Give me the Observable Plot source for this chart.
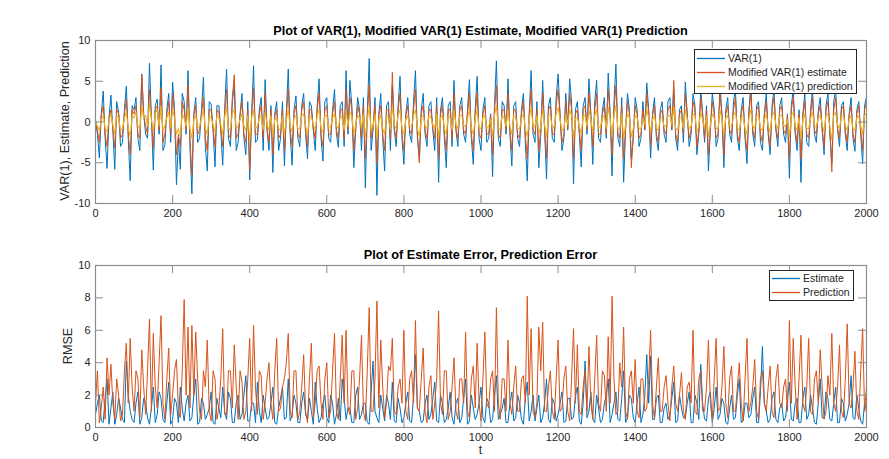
<!DOCTYPE html>
<html><head><meta charset="utf-8">
<script src="https://cdn.jsdelivr.net/npm/d3@7"></script>
<script src="https://cdn.jsdelivr.net/npm/@observablehq/plot@0.6"></script>
<style>
body{margin:0;background:#fff;font-family:"Liberation Sans",Arial,sans-serif;}
#wrap{position:relative;width:889px;height:459px;overflow:hidden;background:#fff;}
.abs{position:absolute;}
.title{font-weight:bold;font-size:12.7px;color:#000;white-space:nowrap;transform:translate(-50%,-50%);}
.ylab{font-size:12.6px;color:#262626;white-space:nowrap;transform:translate(-50%,-50%) rotate(-90deg);}
.xlab{font-size:12px;color:#262626;transform:translate(-50%,-50%);}
</style>
</head><body>
<div id="wrap"></div>
<script>
const tStep = 10, tMax = 2000;
const xTicks = [0,200,400,600,800,1000,1200,1400,1600,1800,2000];
const yTicksTop = [-10,-5,0,5,10];
const yTicksBottom = [0,2,4,6,8,10];

const titleTop = "Plot of VAR(1), Modified VAR(1) Estimate, Modified VAR(1) Prediction";
const titleBottom = "Plot of Estimate Error, Prediction Error";
const seriesTop = ["VAR(1)", "Modified VAR(1) estimate", "Modified VAR(1) prediction"];
const seriesBottom = ["Estimate", "Prediction"];

// VAR(1), at t = 0,10,...,2000
const varSeries = [0.3,-4.4,3.8,-5.7,3.3,-5.8,1.2,-2.5,4.4,-7.2,
1.5,-2.0,5.9,-1.5,7.2,-5.9,2.8,7.0,-2.8,3.5,
4.9,-7.7,-5.8,2.5,6.3,-8.8,3.0,-2.0,5.5,-6.0,
2.2,-5.5,2.0,-5.3,6.5,-3.0,4.5,-2.5,3.5,-4.0,
-7.1,6.9,-2.2,3.0,5.2,-3.5,-6.2,2.5,-2.0,-5.4,
6.5,-5.3,3.2,-3.0,3.5,-4.5,2.0,-3.5,5.3,-4.8,
3.0,-2.5,4.0,-3.1,2.5,6.3,5.1,-5.6,3.0,-3.5,
-8.1,7.8,-1.0,-9.0,3.5,-6.0,2.5,4.5,-3.0,5.6,
-5.2,3.0,-2.5,6.3,-4.5,3.5,-3.0,2.5,-3.5,-7.4,
3.0,-5.6,2.5,5.1,-3.0,3.0,-2.5,5.2,-5.2,5.6,
-3.5,3.0,-2.0,-6.7,7.5,-3.0,2.0,5.3,-5.4,2.5,
-3.0,3.5,-7.2,6.3,-2.5,-5.6,5.1,-7.0,3.0,-2.5,
5.9,-3.5,3.5,5.3,-7.6,2.5,-5.5,3.0,5.3,-5.2,
5.1,-2.5,3.0,6.0,-6.6,7.1,-3.0,-7.4,3.5,-4.5,
3.0,-3.0,2.5,4.8,-4.4,3.0,-3.5,2.5,-2.5,3.0,
4.0,-3.5,2.0,4.9,-3.0,3.5,-4.0,4.0,-2.5,-6.0,
3.5,-3.0,4.5,-5.6,3.0,-2.5,4.0,-3.5,3.0,-5.1,
4.5,-3.0,2.5,-3.5,3.5,-4.0,4.0,-3.0,3.0,-2.5,
-6.9,4.0,-3.5,-7.4,3.5,-3.0,4.0,-2.5,3.0,-4.0,
3.5,-5.0,4.0,-3.0,2.5,-3.5,3.0,-3.6,2.5,-5.1,
3.1];
// VAR(1), at t = 5,15,...,1995
const varMid = [-1.5,1.0,-2.0,0.5,-1.0,2.5,-3.0,1.5,-2.0,2.0,3.0,-3.5,1.0,-2.0,0.5,2.0,-1.5,-3.5,1.5,-2.5,
1.5,-2.0,3.5,-1.5,-3.0,1.0,-2.5,1.5,-3.0,2.5,-1.0,2.0,-1.0,1.5,-2.0,2.5,-3.5,1.0,-2.0,2.5,
1.0,-2.5,1.5,-3.5,-1.0,2.0,1.0,-3.5,2.5,1.0,-1.5,1.5,-2.0,2.0,-1.5,2.5,-1.0,2.0,-2.0,2.5,
-2.0,1.5,-1.5,2.0,-3.0,-1.5,2.0,-1.0,1.5,3.0,1.0,-3.5,3.0,1.0,-2.0,2.0,-3.5,-1.0,2.0,-2.0,
1.0,-1.5,2.5,-2.0,1.5,-1.5,2.0,-1.0,3.0,1.5,-2.0,2.0,-3.0,-1.0,2.0,-1.5,1.5,-2.0,1.5,-2.0,
1.5,-2.5,1.0,2.0,-2.0,2.5,-1.5,-1.5,2.0,-2.0,1.5,-2.5,1.0,-1.5,2.5,-1.5,-1.0,2.0,-2.0,3.0,
1.0,-2.0,-1.0,2.5,1.5,-1.5,2.0,-1.5,1.0,2.5,-2.0,1.5,-2.0,1.0,2.5,-2.0,3.0,-1.0,1.5,-2.0,
1.5,-2.0,-1.0,1.5,1.0,-2.0,1.5,-1.5,2.5,-1.0,-2.0,1.5,-2.5,1.0,-1.5,2.0,-1.5,1.0,2.0,-1.0,
1.5,-2.0,1.0,1.5,-1.5,2.5,-2.0,1.5,-2.0,1.5,-1.5,2.0,-2.5,1.0,-1.5,2.0,-1.0,2.0,-1.5,1.0,
2.0,-1.5,1.5,1.0,-2.5,1.5,-1.5,1.5,-1.0,2.0,-1.5,2.5,-1.0,2.0,-1.5,1.0,-2.0,1.5,-1.5,2.0];

// Modified VAR(1) estimate
const estSeries = [0.2,-2.5,2.0,-3.0,1.5,-3.2,1.0,-1.5,2.8,-4.0,
1.0,-1.5,5.8,-0.5,4.0,-3.2,2.0,4.2,-1.5,2.5,
3.5,-4.0,-3.0,1.5,4.5,-6.5,2.0,-1.0,3.0,-3.5,
1.5,-3.0,1.2,-3.0,4.0,-2.0,5.8,-1.5,2.5,-2.5,
-5.9,4.2,-1.5,2.0,3.5,-2.5,-4.0,1.5,-1.5,-3.5,
4.0,-3.0,2.0,-2.0,2.5,-3.0,1.5,-2.0,3.5,-3.0,
2.0,-1.5,2.5,-2.0,1.5,4.0,3.0,-3.5,2.0,-2.0,
-4.5,4.5,-0.5,-5.0,2.0,-3.5,1.5,6.1,-2.0,3.5,
-3.5,2.0,-1.5,4.0,-5.0,2.0,-2.0,1.5,-2.0,-4.5,
2.0,-3.5,1.5,3.5,-2.0,2.0,-1.5,3.5,-3.5,3.5,
-2.0,2.0,-1.5,-4.0,4.5,-2.0,1.5,3.5,-3.5,1.5,
-2.0,2.5,-4.5,4.0,-1.5,-3.5,3.5,-4.5,2.0,-1.5,
4.0,-2.5,2.5,3.5,-4.5,1.5,-3.5,2.0,3.5,-3.0,
3.5,-1.5,2.0,4.0,-4.0,4.5,-2.0,-4.5,2.5,-5.6,
2.0,-2.0,1.5,3.5,-3.0,2.0,-2.5,1.5,-1.5,2.0,
5.1,-2.5,1.5,3.5,-2.0,2.5,-3.0,3.0,-2.0,-4.0,
2.5,-2.0,3.5,-4.0,2.0,-1.5,3.0,-2.5,2.0,-3.5,
3.5,-2.0,2.0,-2.5,2.5,-3.0,3.0,-2.0,2.0,-1.5,
-4.5,3.0,-2.5,-4.5,2.5,-2.0,3.0,-1.5,2.0,-3.0,
2.5,-6.1,3.0,-2.0,2.0,-2.5,2.0,-2.5,2.0,-3.5,
2.5];
const estMid = [-1.0,0.8,-1.5,0.5,-0.8,1.5,-2.0,1.0,-1.5,1.5,2.0,-2.0,0.8,-1.5,0.5,1.5,-1.0,-2.5,1.0,-1.5,
1.0,-1.5,2.5,-1.0,-2.0,0.8,-1.5,1.0,-2.0,1.5,-0.8,1.5,-0.8,1.0,-1.5,3.0,-2.0,0.8,-1.5,1.5,
0.8,-1.5,1.0,-2.0,-0.8,1.5,0.8,-2.0,1.5,0.8,-1.0,1.0,-1.5,1.5,-1.0,1.5,-0.8,1.5,-1.5,1.5,
-1.5,1.0,-1.0,1.5,-2.0,-1.0,1.5,-0.8,1.0,2.0,0.8,-2.0,2.0,0.8,-1.5,1.5,-2.0,-0.8,1.5,-1.5,
0.8,-1.0,1.5,-1.5,1.0,-1.0,1.5,-0.8,2.0,1.0,-1.5,1.5,-2.0,-0.8,1.5,-1.0,1.0,-1.5,1.0,-1.5,
1.0,-1.5,0.8,1.5,-1.5,1.5,-1.0,-1.0,1.5,-1.5,1.0,-1.5,0.8,-1.0,1.5,-1.0,-0.8,1.5,-1.5,2.0,
0.8,-1.5,-0.8,1.5,1.0,-1.0,1.5,-1.0,0.8,1.5,-1.5,1.0,-1.5,0.8,1.5,-1.5,2.0,-0.8,1.0,-1.5,
1.0,-1.5,-0.8,1.0,0.8,-1.5,1.0,-1.0,1.5,-0.8,-1.5,1.0,-1.5,0.8,-1.0,1.5,-1.0,0.8,1.5,-0.8,
1.0,-1.5,0.8,1.0,-1.0,1.5,-1.5,1.0,-1.5,1.0,-1.0,1.5,-1.5,0.8,-1.0,1.5,-0.8,1.5,-1.0,0.8,
1.5,-1.0,1.0,0.8,-1.5,1.0,-1.0,1.0,-0.8,1.5,-1.0,1.5,-0.8,1.5,-1.0,0.8,-1.5,1.0,-1.0,1.5];

// Modified VAR(1) prediction
const predSeries = [0.0,-1.0,0.8,-1.2,1.0,-1.5,0.5,-0.8,1.2,-1.8,
0.5,-0.5,2.0,0.8,2.2,-1.0,1.5,2.0,-0.5,1.2,
1.5,-1.5,-1.8,0.5,1.8,-2.0,0.8,-0.5,1.5,-1.5,
0.5,-1.2,0.5,-1.5,1.8,-0.8,1.5,-0.5,1.0,-1.0,
-2.2,1.5,-0.5,0.8,1.2,-1.0,-1.8,0.5,-0.8,-1.5,
1.5,-1.2,0.8,-0.8,1.0,-1.5,0.5,-1.0,1.5,-1.2,
0.8,-0.5,1.0,-0.8,0.5,1.5,1.2,-1.5,0.8,-0.8,
-1.8,1.8,-0.5,-2.0,0.8,-1.5,0.5,2.0,-0.8,1.5,
-1.5,0.8,-0.5,1.5,-1.8,0.8,-0.8,0.5,-0.8,-2.0,
0.8,-1.5,0.5,1.5,-0.8,0.8,-0.5,1.5,-1.5,1.5,
-0.8,0.8,-0.5,-1.8,2.0,-0.8,0.5,1.5,-1.5,0.5,
-0.8,1.0,-1.8,1.8,-0.5,-1.5,1.5,-1.8,0.8,-0.5,
1.8,-1.0,1.0,1.5,-2.0,0.5,-1.5,0.8,1.5,-1.2,
1.5,-0.5,0.8,1.8,-1.8,2.0,-0.8,-2.0,1.0,-1.8,
0.8,-0.8,0.5,1.5,-1.2,0.8,-1.0,0.5,-0.5,0.8,
1.8,-1.0,0.5,1.5,-0.8,1.0,-1.2,1.2,-0.8,-1.8,
1.0,-0.8,1.5,-1.5,0.8,-0.5,1.2,-1.0,0.8,-1.5,
1.5,-0.8,0.8,-1.0,1.0,-1.2,1.2,-0.8,0.8,-0.5,
-1.8,1.2,-1.0,-2.0,1.0,-0.8,1.2,-0.5,0.8,-1.2,
1.0,-2.2,1.2,-0.8,0.8,-1.0,0.8,-1.0,0.8,-1.5,
1.0];
const predMid = [-0.5,0.3,-0.8,0.2,-0.3,0.8,-1.0,0.5,-0.8,0.8,1.2,-0.8,0.5,-0.5,0.3,1.0,-0.5,-1.0,0.5,-0.8,
0.5,-0.8,1.0,-0.5,-0.8,0.3,-0.8,0.5,-0.8,0.8,-0.3,0.8,-0.3,0.5,-0.8,1.0,-0.8,0.3,-0.5,0.8,
0.5,-0.8,0.5,-1.0,-0.3,0.8,0.3,-1.0,0.8,0.3,-0.5,0.5,-0.8,0.8,-0.5,0.8,-0.3,0.8,-0.8,0.8,
-0.8,0.5,-0.5,0.8,-1.0,-0.5,0.8,-0.3,0.5,1.0,0.3,-1.0,1.0,0.3,-0.8,0.8,-1.0,-0.3,0.8,-0.8,
0.3,-0.5,0.8,-0.8,0.5,-0.5,0.8,-0.3,1.0,0.5,-0.8,0.8,-1.0,-0.3,0.8,-0.5,0.5,-0.8,0.5,-0.8,
0.5,-0.8,0.3,0.8,-0.8,0.8,-0.5,-0.5,0.8,-0.8,0.5,-0.8,0.3,-0.5,0.8,-0.5,-0.3,0.8,-0.8,1.0,
0.3,-0.8,-0.3,0.8,0.5,-0.5,0.8,-0.5,0.3,0.8,-0.8,0.5,-0.8,0.3,0.8,-0.8,1.0,-0.3,0.5,-0.8,
0.5,-0.8,-0.3,0.5,0.3,-0.8,0.5,-0.5,0.8,-0.3,-0.8,0.5,-0.8,0.3,-0.5,0.8,-0.5,0.3,0.8,-0.3,
0.5,-0.8,0.3,0.5,-0.5,0.8,-0.8,0.5,-0.8,0.5,-0.5,0.8,-0.8,0.3,-0.5,0.8,-0.3,0.8,-0.5,0.3,
0.8,-0.5,0.5,0.3,-0.8,0.5,-0.5,0.5,-0.3,0.8,-0.5,0.8,-0.3,0.8,-0.5,0.3,-0.8,0.5,-0.5,0.8];

// Estimate error (RMSE)
const estErr = [0.8,2.0,0.3,3.0,1.2,0.2,1.8,0.5,4.1,1.0,
0.3,2.2,0.6,1.5,0.2,2.5,0.8,1.8,0.3,2.8,
0.5,1.5,2.5,0.4,2.0,0.6,3.0,0.3,1.5,0.8,
2.2,0.2,1.2,2.5,0.5,1.8,0.3,2.0,0.8,3.2,
0.4,1.5,2.8,0.3,1.2,0.6,2.5,0.2,1.8,0.5,
3.0,0.8,1.5,0.3,2.2,0.5,1.0,2.8,0.3,1.5,
0.6,2.0,0.2,1.8,3.0,0.5,1.2,0.3,2.5,0.8,
1.5,0.2,4.1,0.6,2.0,0.4,1.5,2.8,0.3,1.2,
0.6,2.2,0.3,4.5,1.0,0.4,2.0,0.8,2.8,0.3,
1.5,0.5,2.2,0.2,1.8,0.6,3.0,0.4,1.2,0.8,
2.5,0.3,1.5,0.5,3.2,0.8,1.8,0.3,2.2,0.6,
1.5,0.2,2.8,1.0,0.4,2.0,0.6,3.0,0.3,1.5,
0.8,2.2,0.4,1.8,0.6,2.5,0.2,4.1,1.0,0.5,
2.0,0.3,1.5,3.0,0.8,2.2,0.4,3.5,0.6,1.8,
0.3,2.5,0.8,4.5,4.4,0.5,2.0,0.3,1.5,0.8,
2.8,0.4,1.2,0.6,2.2,0.3,1.5,3.9,0.5,1.8,
0.3,2.5,0.8,1.5,0.2,2.0,0.6,3.0,0.4,1.5,
0.8,2.5,0.3,5.0,1.0,0.5,2.2,0.3,1.5,0.6,
2.8,0.4,1.8,0.3,2.5,0.8,1.2,0.2,3.0,0.6,
1.8,0.4,2.5,0.3,1.5,0.8,3.2,0.5,1.2,0.2,
1.0];
const estErrMid = [1.5,0.4,1.8,0.2,2.2,0.8,1.2,0.3,2.0,0.5,1.5,0.2,1.8,0.6,1.2,0.3,2.2,0.5,1.5,0.2,
1.8,0.3,1.2,1.5,0.4,2.0,0.2,1.8,0.5,1.2,0.3,1.8,0.6,1.0,2.2,0.3,1.5,0.5,2.0,0.4,
1.5,0.3,1.0,2.0,0.5,1.5,0.3,1.2,2.5,0.6,0.4,2.0,0.3,1.5,0.8,1.8,0.2,1.2,0.6,2.0,
0.3,1.5,0.8,0.4,1.8,1.2,0.3,2.0,0.5,1.5,0.3,2.2,1.0,0.3,1.2,2.0,0.5,0.4,1.8,0.3,
1.5,0.4,2.0,1.2,0.3,1.5,0.5,1.8,0.4,2.0,0.3,1.2,0.6,1.5,0.3,1.8,0.2,2.0,0.5,1.5,
0.6,1.8,0.3,2.0,0.5,1.2,0.3,1.5,0.4,2.0,0.5,1.8,0.4,2.0,1.2,0.3,1.5,0.5,1.8,0.4,
1.5,0.3,1.8,0.5,2.0,0.4,1.5,0.6,2.2,0.3,1.2,0.5,2.0,0.3,1.5,0.5,1.8,0.3,2.0,0.6,
1.5,0.3,2.0,1.5,0.5,1.8,0.3,1.2,0.5,1.8,0.3,2.0,0.6,1.5,0.3,2.0,0.5,1.5,0.4,2.2,
1.2,0.5,1.8,0.3,1.2,0.5,2.0,0.3,1.5,0.6,1.8,0.3,2.2,1.5,0.3,1.8,0.5,1.2,0.4,1.8,
0.5,1.5,0.3,1.8,0.5,2.0,0.3,1.5,0.6,2.2,0.5,1.5,0.3,1.8,0.4,1.5,0.6,2.0,0.4,1.5];

// Prediction error (RMSE)
const predErr = [1.5,0.3,2.5,4.3,3.9,0.5,2.0,0.8,5.2,5.5,
1.0,3.0,4.8,0.8,6.7,5.8,1.2,6.9,0.5,4.9,
2.0,4.2,0.6,7.9,6.2,6.3,5.9,1.0,3.5,5.4,
0.4,3.0,1.2,6.1,0.8,3.5,5.1,0.5,2.8,1.0,
5.5,6.3,0.8,3.2,1.5,4.0,0.5,5.5,1.2,3.0,
5.8,0.6,3.5,1.0,4.5,0.3,5.2,1.5,3.8,0.5,
4.0,1.0,5.8,0.5,5.7,6.0,0.8,3.5,1.2,5.7,
0.4,7.4,1.0,7.8,5.4,0.6,3.8,5.5,0.8,3.0,
6.0,0.5,3.5,6.6,1.0,4.9,0.3,3.2,1.5,7.2,
0.8,3.5,1.0,4.3,0.5,3.0,5.9,0.6,3.8,5.2,
0.4,5.9,1.2,3.5,7.4,0.5,3.0,5.4,0.8,3.8,
1.0,3.2,8.1,6.1,0.6,6.2,6.5,1.0,3.5,0.5,
5.4,1.2,3.8,0.4,6.1,5.1,0.8,3.5,5.0,0.5,
5.7,1.0,3.2,5.6,8.1,0.8,4.0,6.2,0.5,3.5,
4.2,0.6,3.0,1.2,6.0,0.5,4.3,1.0,3.2,0.4,
3.8,1.0,3.4,0.5,2.8,6.0,0.8,3.5,1.0,5.4,
0.5,5.5,1.2,5.0,0.6,3.8,1.0,4.0,0.4,5.5,
1.5,4.2,0.5,3.5,1.0,3.8,0.6,3.9,1.2,3.0,
6.6,5.5,0.5,5.7,1.0,5.5,0.8,3.5,4.8,0.5,
3.2,5.8,1.0,5.1,0.6,6.4,1.2,4.7,0.5,6.1,
2.5];
const predErrMid = [3.5,1.2,0.5,2.0,1.5,3.0,0.4,3.5,1.5,2.5,3.5,0.6,2.5,3.5,1.0,2.5,4.0,1.5,3.0,0.8,
3.5,1.0,3.5,2.0,1.2,2.0,3.0,0.5,2.5,1.0,3.5,0.5,3.0,0.8,3.5,1.2,2.5,3.5,0.5,3.0,
1.0,2.5,3.5,0.5,3.0,1.5,3.5,1.0,2.5,4.0,1.0,3.5,0.5,2.5,1.0,3.0,0.6,3.5,1.5,3.0,
0.6,3.5,1.0,3.0,1.5,1.2,3.5,0.5,3.0,1.0,3.5,1.0,3.0,1.2,2.5,1.5,3.5,1.0,2.5,1.5,
1.0,3.0,1.5,1.2,3.0,1.0,2.5,0.5,3.0,1.5,3.5,0.5,2.5,1.0,3.0,1.5,1.0,3.0,1.2,1.5,
3.0,1.5,3.0,1.0,1.5,3.0,1.0,1.5,2.5,1.0,3.0,1.5,2.0,1.0,1.5,3.5,1.0,2.5,1.0,3.0,
1.0,3.0,1.0,3.0,1.5,1.0,2.5,1.0,1.5,3.0,1.5,3.5,1.0,1.5,3.0,1.0,2.5,1.0,3.0,1.5,
1.0,3.0,1.0,3.0,1.5,2.5,1.0,2.5,1.5,2.5,1.5,2.0,1.0,2.5,1.5,1.0,3.0,1.0,2.5,1.5,
3.0,1.0,2.5,1.5,3.0,1.0,2.5,1.5,3.0,1.0,2.5,1.0,3.0,1.5,2.5,1.0,3.0,1.5,2.5,1.0,
1.5,2.5,3.0,1.5,2.5,1.0,3.0,1.5,2.5,1.0,2.0,1.5,2.5,1.0,3.0,1.5,2.5,1.0,3.5,1.0];

const colors = ["#0072BD", "#D95319", "#EDB120"];

function merge(main, mid) {
  const out = [];
  main.forEach((v, i) => {
    out.push({t: i * tStep, v});
    if (i < mid.length) out.push({t: i * tStep + tStep / 2, v: mid[i]});
  });
  return out;
}
const sVar = merge(varSeries, varMid);
const sEst = merge(estSeries, estMid);
const sPred = merge(predSeries, predMid);
const sEe = merge(estErr, estErrMid);
const sPe = merge(predErr, predErrMid);

const fmt = d => String(d);
const axisColor = "#262626";
const frameColor = "#8c8c8c";

function inwardTicks(yDom, yLen) {
  const [y0, y1] = yDom;
  return [
    Plot.ruleX(xTicks, {x: d => d, y1: y0, y2: y0 + yLen, stroke: frameColor, strokeWidth: 1}),
    Plot.ruleX(xTicks, {x: d => d, y1: y1 - yLen, y2: y1, stroke: frameColor, strokeWidth: 1}),
  ];
}
function inwardTicksY(yT, xLen) {
  return [
    Plot.ruleY(yT, {y: d => d, x1: 0, x2: xLen, stroke: frameColor, strokeWidth: 1}),
    Plot.ruleY(yT, {y: d => d, x1: tMax - xLen, x2: tMax, stroke: frameColor, strokeWidth: 1}),
  ];
}

const style = {fontFamily: '"Liberation Sans", Arial, sans-serif', fontSize: "11px", color: axisColor, background: "transparent", overflow: "visible"};

const topPlot = Plot.plot({
  width: 889, height: 222,
  marginLeft: 95, marginRight: 23, marginTop: 40, marginBottom: 19,
  style,
  x: {domain: [0, tMax], ticks: xTicks, tickSize: 0, tickPadding: 6, tickFormat: fmt, label: null},
  y: {domain: [-10, 10], ticks: yTicksTop, tickSize: 0, tickPadding: 5, tickFormat: fmt, label: null},
  marks: [
    Plot.line(sVar, {x: "t", y: "v", stroke: colors[0], strokeWidth: 1}),
    Plot.line(sEst, {x: "t", y: "v", stroke: colors[1], strokeWidth: 1}),
    Plot.line(sPred, {x: "t", y: "v", stroke: colors[2], strokeWidth: 1.1}),
    ...inwardTicks([-10, 10], 0.98),
    ...inwardTicksY(yTicksTop, 20.5),
    Plot.frame({stroke: frameColor, strokeWidth: 1.2})
  ]
});

const botPlot = Plot.plot({
  width: 889, height: 237,
  marginLeft: 95, marginRight: 23, marginTop: 43, marginBottom: 32,
  style,
  x: {domain: [0, tMax], ticks: xTicks, tickSize: 0, tickPadding: 6, tickFormat: fmt, label: null},
  y: {domain: [0, 10], ticks: yTicksBottom, tickSize: 0, tickPadding: 5, tickFormat: fmt, label: null},
  marks: [
    Plot.line(sEe, {x: "t", y: "v", stroke: colors[0], strokeWidth: 1}),
    Plot.line(sPe, {x: "t", y: "v", stroke: colors[1], strokeWidth: 1}),
    ...inwardTicks([0, 10], 0.5),
    ...inwardTicksY(yTicksBottom, 20.5),
    Plot.frame({stroke: frameColor, strokeWidth: 1.2})
  ]
});

const wrap = document.getElementById("wrap");
function place(el, left, top) { el.style.position = "absolute"; el.style.left = left + "px"; el.style.top = top + "px"; wrap.appendChild(el); return el; }
place(topPlot, 0, 0);
place(botPlot, 0, 222);

function label(cls, text, x, y) { const d = document.createElement("div"); d.className = "abs " + cls; d.textContent = text; place(d, x, y); return d; }
label("title", titleTop, 480.5, 31);
label("title", titleBottom, 480.5, 255);
label("ylab", "VAR(1), Estimate, Prediction", 65, 121);
label("ylab", "RMSE", 68, 346);
label("xlab", "t", 480.5, 450);

// legends drawn as small SVGs
const NS = "http://www.w3.org/2000/svg";
function legend(names, left, top, w, h, rowY) {
  const svg = document.createElementNS(NS, "svg");
  svg.setAttribute("width", w); svg.setAttribute("height", h);
  const rect = document.createElementNS(NS, "rect");
  rect.setAttribute("x", 0.5); rect.setAttribute("y", 0.5);
  rect.setAttribute("width", w - 1); rect.setAttribute("height", h - 1);
  rect.setAttribute("fill", "#fff"); rect.setAttribute("stroke", "#262626"); rect.setAttribute("stroke-width", 1);
  svg.appendChild(rect);
  names.forEach((n, i) => {
    const ln = document.createElementNS(NS, "line");
    ln.setAttribute("x1", 3); ln.setAttribute("x2", 31);
    ln.setAttribute("y1", rowY[i]); ln.setAttribute("y2", rowY[i]);
    ln.setAttribute("stroke", colors[i]); ln.setAttribute("stroke-width", 1.3);
    svg.appendChild(ln);
    const tx = document.createElementNS(NS, "text");
    tx.setAttribute("x", 34); tx.setAttribute("y", rowY[i]);
    tx.setAttribute("dy", "0.35em");
    tx.setAttribute("fill", "#262626");
    tx.setAttribute("font-size", "10.5");
    tx.setAttribute("font-family", '"Liberation Sans", Arial, sans-serif');
    tx.textContent = n;
    svg.appendChild(tx);
  });
  place(svg, left, top);
}
legend(seriesTop, 694, 49, 163, 45, [9.5, 23.5, 37.5]);
legend(seriesBottom, 769, 270, 85, 31, [8.5, 22.5]);
</script>
</body></html>
